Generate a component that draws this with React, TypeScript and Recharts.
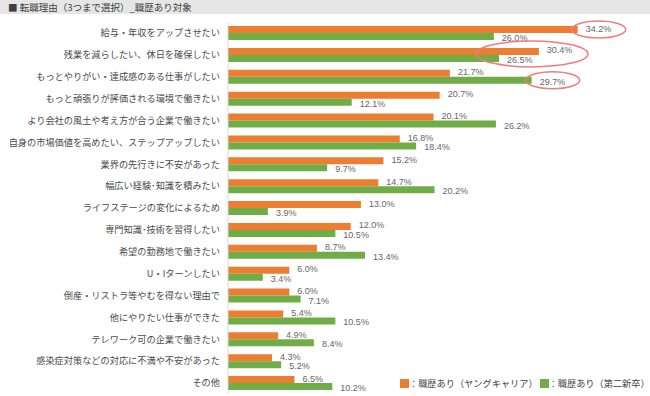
import React from 'react';
import { BarChart, Bar, XAxis, YAxis } from 'recharts';

const categories = [
  '給与・年収をアップさせたい',
  '残業を減らしたい、休日を確保したい',
  'もっとやりがい・達成感のある仕事がしたい',
  'もっと頑張りが評価される環境で働きたい',
  'より会社の風土や考え方が合う企業で働きたい',
  '自身の市場価値を高めたい、ステップアップしたい',
  '業界の先行きに不安があった',
  '幅広い経験･知識を積みたい',
  'ライフステージの変化によるため',
  '専門知識･技術を習得したい',
  '希望の勤務地で働きたい',
  'U・Iターンしたい',
  '倒産・リストラ等やむを得ない理由で',
  '他にやりたい仕事ができた',
  'テレワーク可の企業で働きたい',
  '感染症対策などの対応に不満や不安があった',
  'その他',
];

const youngCareer = [34.2, 30.4, 21.7, 20.7, 20.1, 16.8, 15.2, 14.7, 13.0, 12.0, 8.7, 6.0, 6.0, 5.4, 4.9, 4.3, 6.5];
const secondGrad = [26.0, 26.5, 29.7, 12.1, 26.2, 18.4, 9.7, 20.2, 3.9, 10.5, 13.4, 3.4, 7.1, 10.5, 8.4, 5.2, 10.2];

const seriesNames = ['：職歴あり（ヤングキャリア）', '：職歴あり（第二新卒）'];
const title = '■ 転職理由（3つまで選択）_職歴あり対象';

// rows circled in red in the original
const circledYoung = [0];
const circledSecond = [2];
const circledBoth = [1];

const data = categories.map((name, i) => ({ name, young: youngCareer[i], second: secondGrad[i] }));

const ORANGE = '#ED7D31';
const GREEN = '#70AD47';
const RING = '#F07C7C';
const JP = '"Noto Sans CJK JP", sans-serif';

const makeLabel = (series: 'young' | 'second') => (props: any) => {
  const { x, y, width, height, value, index } = props;
  const lx = x + width + 8;
  const cy = y + height / 2;
  const ring =
    (series === 'young' && circledYoung.includes(index)) ||
    (series === 'second' && circledSecond.includes(index));
  return (
    <g>
      <text
        x={lx}
        y={cy}
        dy={series === 'young' ? 2 : 4.5}
        fontSize={9}
        fill="#666"
        fontFamily="Liberation Sans, Arial, sans-serif"
      >
        {value.toFixed(1)}%
      </text>
      {ring && <ellipse cx={lx + 13} cy={cy} rx={27} ry={8.5} fill="none" stroke={RING} strokeWidth={1.5} />}
      {series === 'second' && circledBoth.includes(index) && (
        <ellipse cx={lx + 25} cy={y - 1} rx={56} ry={13} fill="none" stroke={RING} strokeWidth={1.5} />
      )}
    </g>
  );
};

export default function App() {
  return (
    <div style={{ position: 'absolute', left: 0, top: 0, width: 650, height: 396, background: '#fff', fontFamily: JP }}>
      <div style={{ position: 'absolute', left: 0, top: 0, width: 650, height: 14, background: '#e6e6e6' }} />
      <div style={{ position: 'absolute', left: 8, top: 0, height: 14, lineHeight: '14px', fontSize: 9.5, color: '#404040' }}>
        {title}
      </div>
      <div style={{ position: 'absolute', left: 0, top: 0 }}>
        <BarChart
          width={650}
          height={396}
          data={data}
          layout="vertical"
          margin={{ top: 22, right: 13, bottom: 2, left: 0 }}
          barGap={0}
        >
          <XAxis type="number" domain={[0, 40]} hide />
          <YAxis
            type="category"
            dataKey="name"
            width={228}
            interval={0}
            tickLine={false}
            axisLine={{ stroke: '#d9d9d9' }}
            tick={{ fontSize: 9.2, fill: '#4a4a4a', fontFamily: JP }}
          />
          <Bar dataKey="young" fill={ORANGE} barSize={7} isAnimationActive={false} label={makeLabel('young')} />
          <Bar dataKey="second" fill={GREEN} barSize={7} isAnimationActive={false} label={makeLabel('second')} />
        </BarChart>
      </div>
      <div
        style={{
          position: 'absolute',
          left: 400,
          top: 376,
          display: 'flex',
          alignItems: 'center',
          fontSize: 9.2,
          color: '#404040',
          whiteSpace: 'nowrap',
        }}
      >
        <span style={{ width: 9, height: 9, background: ORANGE, display: 'inline-block' }} />
        <span style={{ marginRight: 2 }}>{seriesNames[0]}</span>
        <span style={{ width: 9, height: 9, background: GREEN, display: 'inline-block' }} />
        <span>{seriesNames[1]}</span>
      </div>
    </div>
  );
}
